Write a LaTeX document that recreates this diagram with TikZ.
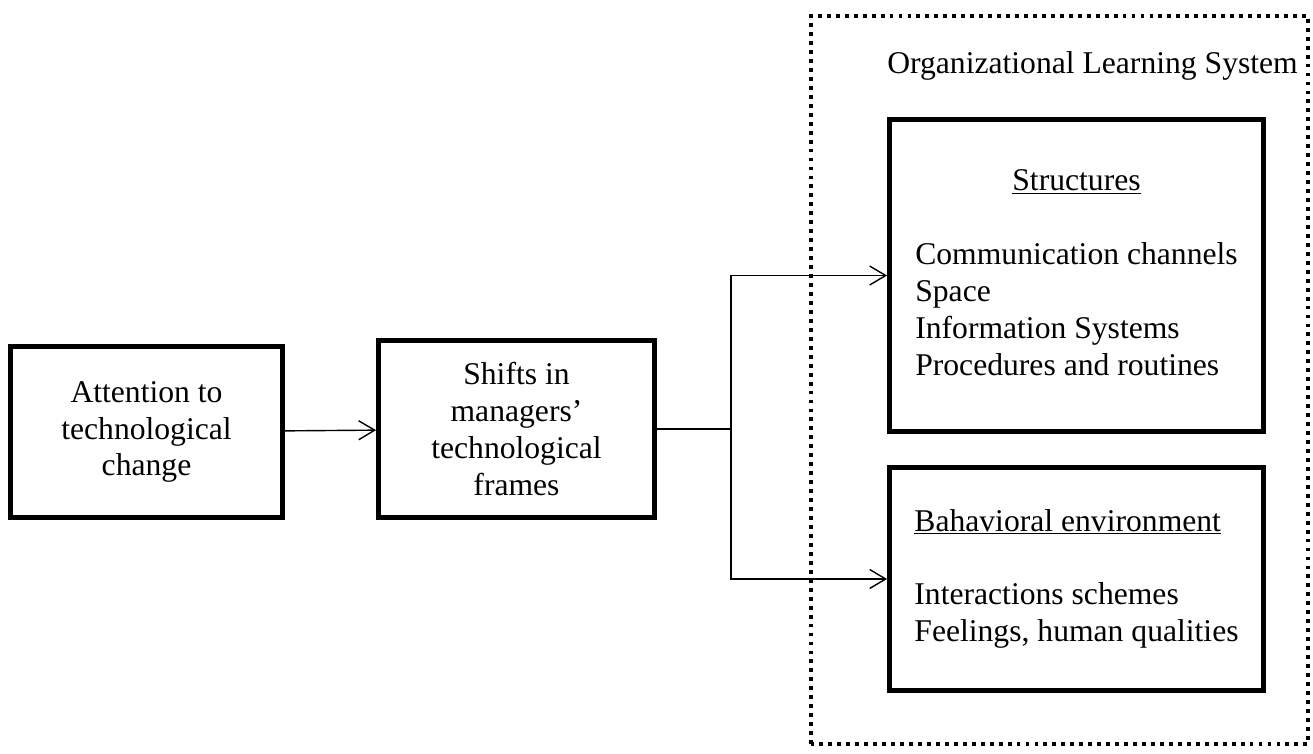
\documentclass[tikz,border=0pt]{standalone}
\usepackage{fontspec}
\setmainfont{Liberation Serif}
\usetikzlibrary{arrows.meta}
\tikzstyle{frame} = [rectangle, line width=2.8pt, draw=black, text centered, align=center, font=\fontsize{18}{21}\selectfont]
\tikzstyle{dotframe} = [line width=2.2pt, dash pattern=on 2.2pt off 2.9pt]
\tikzstyle{arrow} = [line width=0.8pt,->,>={Straight Barb[length=0.32cm,width=0.38cm]}]
\tikzstyle{link} = [line width=0.8pt]

\begin{document}
\begin{tikzpicture}[node distance=7.4cm]
	\useasboundingbox (0,0) rectangle (26.26,15.06);
	\draw [dotframe] (16.22,0.18) rectangle (26.16,14.74);
	\node (title) [anchor=base east, font=\fontsize{18}{21}\selectfont] at (26.08,13.58) {Organizational Learning System};

	\node (attn) [frame, minimum width=5.44cm, minimum height=3.42cm] at (2.93,6.42) {Attention to\\technological\\change};
	\node (shifts) [frame, right of=attn, yshift=0.06cm, minimum width=5.52cm, minimum height=3.54cm] {Shifts in\\managers'\\technological\\frames};
	\node (struct) [frame, right of=shifts, xshift=3.8cm, yshift=3.07cm, minimum width=7.48cm, minimum height=6.24cm] {\begin{tabular}{@{}l@{}}
		\multicolumn{1}{c}{\underline{Structures}}\\
		\\
		Communication channels\\
		Space\\
		Information Systems\\
		Procedures and routines
	\end{tabular}};
	\node (behav) [frame, below of=struct, yshift=1.33cm, minimum width=7.48cm, minimum height=4.46cm] {\begin{tabular}{@{}l@{}}
		\underline{Bahavioral environment}\\
		\\
		Interactions schemes\\
		Feelings, human qualities
	\end{tabular}};

	\coordinate (split) at ([xshift=1.48cm]shifts.east);
	\draw [arrow] (attn) -- (shifts);
	\draw [link] (shifts.east) -- (split);
	\draw [arrow] (split) |- (struct.west);
	\draw [arrow] (split) |- (behav.west);
\end{tikzpicture}
\end{document}
